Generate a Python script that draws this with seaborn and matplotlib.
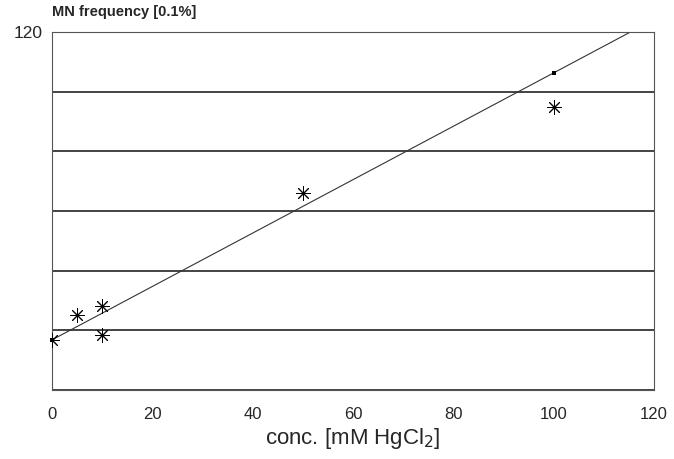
import matplotlib
matplotlib.use("Agg")
import matplotlib.pyplot as plt
import seaborn as sns
import pandas as pd

# data
conc = [0, 5, 10, 10, 50, 100]
mn_freq = [16.8, 25.1, 28.2, 18.4, 66.0, 94.9]
fit_conc = [0, 100, 120]
fit_freq = [16.8, 106.3, 124.2]
fit_marks_conc = [0, 100]
fit_marks_freq = [16.8, 106.3]
x_ticks = [0, 20, 40, 60, 80, 100, 120]
y_ticks = [0, 20, 40, 60, 80, 100, 120]
y_ticklabels = ["", "", "", "", "", "", "120"]

sns.set_theme(style="white")
plt.rcParams['font.family'] = ['Liberation Sans', 'DejaVu Sans']

fig = plt.figure(figsize=(6.74, 4.59), dpi=100)
ax = fig.add_axes([52/674, 1-390/459, (654-52)/674, (390-32)/459])

ax.set_xlim(0, 120)
ax.set_ylim(0, 120)
ax.set_yticks(y_ticks)
ax.set_yticklabels(y_ticklabels, fontsize=12.5)
ax.set_xticks(x_ticks)
ax.set_xticklabels([str(v) for v in x_ticks], fontsize=12)
ax.yaxis.grid(True, color="#111111", linewidth=1.1)
ax.set_axisbelow(True)
ax.tick_params(axis="y", length=0, pad=7)
ax.tick_params(axis="x", direction="in", length=5, width=0.8, color="#444444", pad=12)

df_fit = pd.DataFrame({"x": fit_conc, "y": fit_freq})
sns.lineplot(data=df_fit, x="x", y="y", ax=ax, color="#333333", linewidth=0.8)

df_m = pd.DataFrame({"x": fit_marks_conc, "y": fit_marks_freq})
sns.scatterplot(data=df_m, x="x", y="y", ax=ax, marker="s", s=10, color="black",
                linewidth=0, zorder=4, clip_on=False)

df = pd.DataFrame({"x": conc, "y": mn_freq})
sns.scatterplot(data=df, x="x", y="y", ax=ax, marker=(8, 2, 0), s=100,
                color="black", edgecolor="black", linewidth=0.7, zorder=5)

for s in ax.spines.values():
    s.set_color("#555555")
    s.set_linewidth(0.8)

ax.set_xlabel("conc. [mM HgCl$_2$]", fontsize=16, labelpad=3)
ax.set_ylabel("")
fig.text(52/674, 1-12/459, "MN frequency [0.1%]", fontsize=10.5, fontweight="bold",
         va="center", ha="left")

fig.savefig("out.png", dpi=100)
